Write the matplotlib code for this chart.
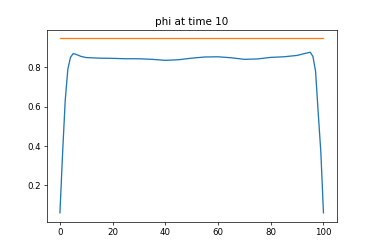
import numpy as np
import matplotlib.pyplot as plt

# phi profile
x = [0, 1, 2, 3, 4, 5, 6, 8, 10, 15, 20, 25, 30, 35, 40, 45, 50, 55, 60,
     65, 70, 75, 80, 85, 90, 93, 95, 96, 97, 98, 99, 100]
phi = [0.06, 0.36, 0.63, 0.79, 0.85, 0.869, 0.866, 0.855, 0.849, 0.846,
       0.845, 0.843, 0.843, 0.840, 0.835, 0.838, 0.846, 0.852, 0.853, 0.848,
       0.840, 0.842, 0.850, 0.853, 0.860, 0.870, 0.876, 0.855, 0.78, 0.57,
       0.37, 0.06]

# reference level
x_ref = [0, 100]
phi_ref = [0.947, 0.947]

plt.figure(figsize=(6, 4), dpi=62.34)
plt.plot(x, phi)
plt.plot(x_ref, phi_ref)
plt.title("phi at time 10")
plt.savefig("out.png", dpi=62.34)
